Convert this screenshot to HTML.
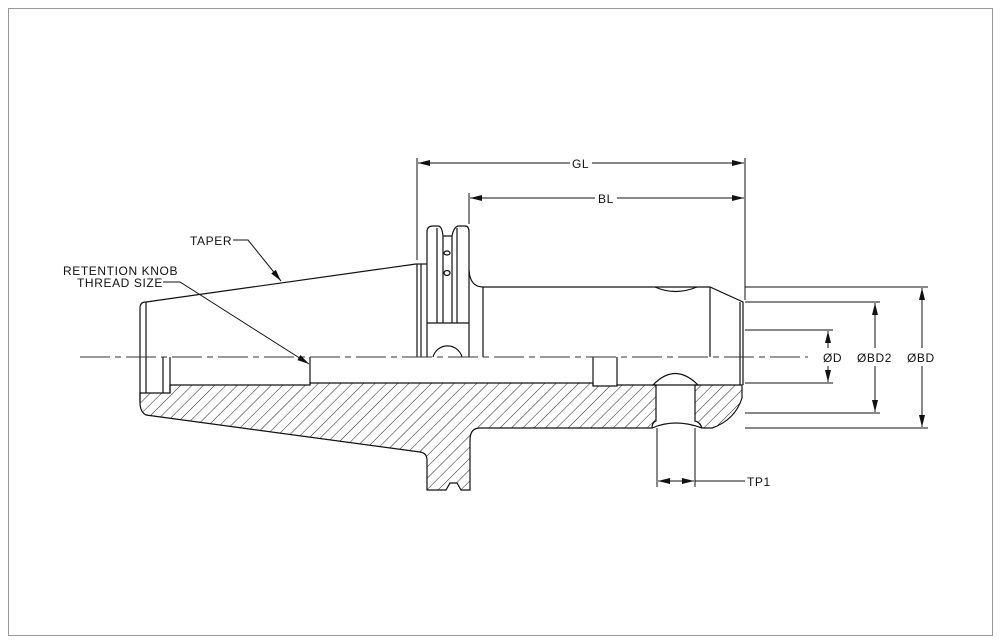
<!DOCTYPE html>
<html><head><style>
html,body{margin:0;padding:0;background:#fff;}
svg{display:block;}
text{font-family:"Liberation Sans",sans-serif;font-size:12px;letter-spacing:0.6px;fill:#111;}
</style></head><body>
<svg width="1001" height="644" viewBox="0 0 1001 644" xmlns="http://www.w3.org/2000/svg">
<defs>
<pattern id="h" patternUnits="userSpaceOnUse" width="8" height="8" patternTransform="rotate(45)">
<line x1="0" y1="0" x2="0" y2="8" stroke="#222" stroke-width="1"/>
</pattern>
<marker id="a" viewBox="0 0 12 6" refX="12" refY="3" markerWidth="12" markerHeight="6" orient="auto" markerUnits="userSpaceOnUse">
<path d="M0,0 L12,3 L0,6 z" fill="#111"/>
</marker>
</defs>
<rect x="8.5" y="8.5" width="984" height="627" fill="#fff" stroke="#999" stroke-width="1"/>
<path d="M140,393 L170,393 L170,385 L310,385 L310,383 L593,383 L593,386 L617,386 L617,385 L656,385 L656,421 Q652,422 652,428 L480,428 Q470,428 470,440 L470,490 L461,490 L457,483 L450,483 L446,490 L427,490 L427,460 Q427,453 420,452 L146,415 Q140,412 140,402 Z" fill="url(#h)" stroke="#111" stroke-width="1.2"/>
<path d="M695,385 L742,385 L742,398 Q735,420 712,428 L702,428 Q700,422 695,421 Z" fill="url(#h)" stroke="#111" stroke-width="1.2"/>
<g fill="none" stroke="#111" stroke-width="1.2">
<path d="M140,402 L140,308 Q140,302 146,302 L416,264"/>
<line x1="146" y1="302" x2="146" y2="393"/>
<path d="M163,357 L163,393 M170,357 L170,393"/>
<line x1="310" y1="357" x2="310" y2="385"/>
<line x1="417" y1="264" x2="417" y2="357"/>
<line x1="421" y1="264" x2="421" y2="357"/>
<line x1="416" y1="264" x2="427" y2="264"/>
<path d="M427,357 L427,232 Q427,226 433,226 L438,226 Q442,226 443,236 L452,236 Q454,226 459,226 L465,226 Q469,226 469,232 L469,357"/>
<line x1="437" y1="228" x2="437" y2="323"/>
<line x1="443" y1="236" x2="443" y2="323"/>
<line x1="452" y1="236" x2="452" y2="323"/>
<line x1="457" y1="228" x2="457" y2="323"/>
<line x1="427" y1="323" x2="469" y2="323"/>
<ellipse cx="447" cy="253" rx="3" ry="2"/>
<ellipse cx="447" cy="273" rx="3" ry="2.5"/>
<path d="M433,357 A15,15 0 0 1 462,357"/>
<path d="M469,270 Q470,287 483,287 L710,287 L743,302 L743,385"/>
<line x1="483" y1="287" x2="483" y2="357"/>
<line x1="710" y1="287" x2="710" y2="357"/>
<line x1="740" y1="302" x2="740" y2="385"/>
<path d="M655,287 Q675,296 697,287"/>
<line x1="593" y1="357" x2="593" y2="386"/>
<line x1="617" y1="357" x2="617" y2="386"/>
<path d="M653,385 Q675,362 698,385 Z"/>
<path d="M652,428 Q675,418 702,428"/>
</g>
<line x1="80" y1="357" x2="808" y2="357" stroke="#333" stroke-width="1" stroke-dasharray="30,5,6,5"/>
<g fill="none" stroke="#111" stroke-width="1">
<line x1="417" y1="158" x2="417" y2="260"/>
<line x1="745" y1="158" x2="745" y2="300"/>
<line x1="469" y1="193" x2="469" y2="224"/>
<line x1="570" y1="163" x2="418" y2="163" marker-end="url(#a)"/>
<line x1="592" y1="163" x2="744" y2="163" marker-end="url(#a)"/>
<line x1="595" y1="198" x2="470" y2="198" marker-end="url(#a)"/>
<line x1="617" y1="198" x2="744" y2="198" marker-end="url(#a)"/>
<line x1="745" y1="330" x2="833" y2="330"/>
<line x1="745" y1="383" x2="833" y2="383"/>
<line x1="745" y1="302" x2="880" y2="302"/>
<line x1="745" y1="413" x2="880" y2="413"/>
<line x1="745" y1="287" x2="928" y2="287"/>
<line x1="745" y1="428" x2="928" y2="428"/>
<line x1="828" y1="348" x2="828" y2="331" marker-end="url(#a)"/>
<line x1="828" y1="366" x2="828" y2="382" marker-end="url(#a)"/>
<line x1="875" y1="348" x2="875" y2="303" marker-end="url(#a)"/>
<line x1="875" y1="366" x2="875" y2="412" marker-end="url(#a)"/>
<line x1="922" y1="348" x2="922" y2="288" marker-end="url(#a)"/>
<line x1="922" y1="366" x2="922" y2="427" marker-end="url(#a)"/>
<line x1="657" y1="428" x2="657" y2="487"/>
<line x1="695" y1="428" x2="695" y2="487"/>
<line x1="676" y1="481" x2="658" y2="481" marker-end="url(#a)"/>
<line x1="676" y1="481" x2="694" y2="481" marker-end="url(#a)"/>
<line x1="695" y1="481" x2="745" y2="481"/>
<polyline points="233,240 248,240 281,281" marker-end="url(#a)"/>
<polyline points="163,282 180,282 309,364" marker-end="url(#a)"/>
</g>
<text x="572" y="168">GL</text>
<text x="598" y="203">BL</text>
<text x="823" y="362">ØD</text>
<text x="857" y="362">ØBD2</text>
<text x="907" y="362">ØBD</text>
<text x="747" y="486">TP1</text>
<text x="190" y="245">TAPER</text>
<text x="63" y="275">RETENTION  KNOB</text>
<text x="77" y="287">THREAD  SIZE</text>
</svg>
</body></html>
